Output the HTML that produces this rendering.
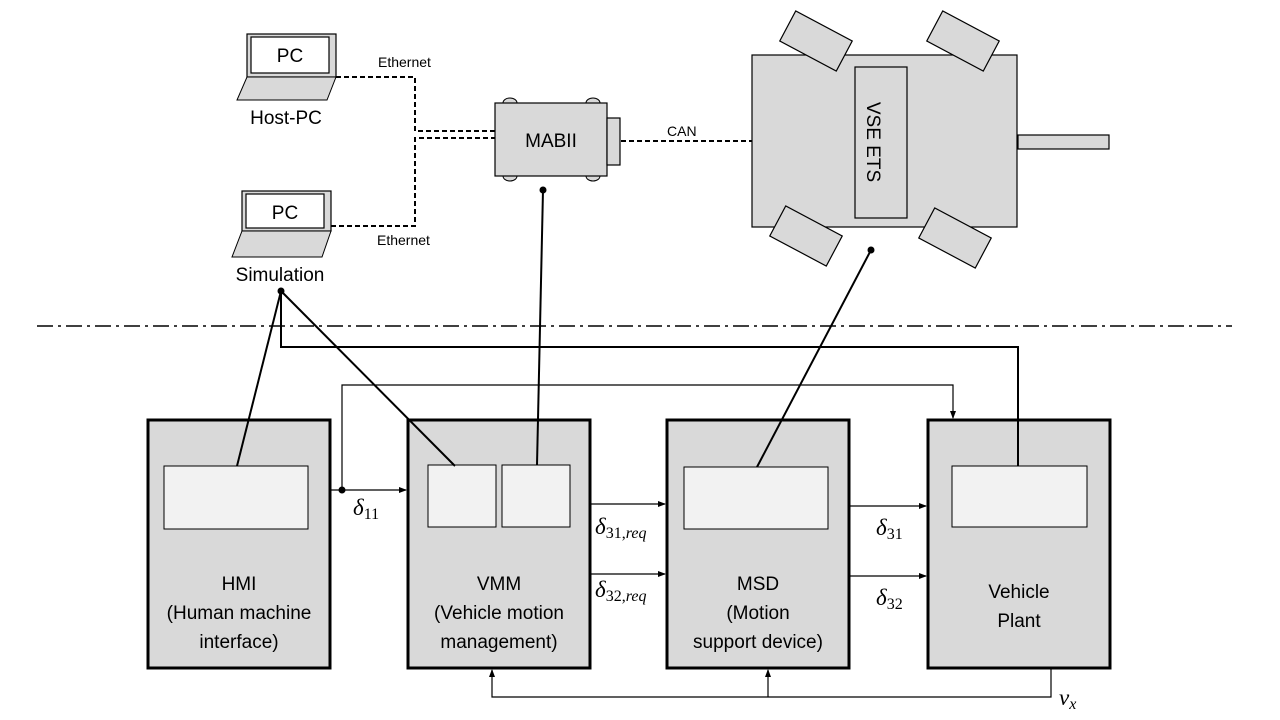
<!DOCTYPE html>
<html><head><meta charset="utf-8"><style>
html,body{margin:0;padding:0;background:#fff;}
svg{display:block;font-family:"Liberation Sans",sans-serif;}
.m{font-family:"Liberation Serif",serif;font-style:italic;}
</style></head><body>
<svg width="1280" height="720" viewBox="0 0 1280 720" xmlns="http://www.w3.org/2000/svg">
<defs><marker id="a" markerWidth="8" markerHeight="8" refX="7" refY="4" orient="auto" markerUnits="userSpaceOnUse"><path d="M0,1 L8,4 L0,7 Z" fill="#000"/></marker></defs>
<g stroke="#000" fill="none">
<!-- Host PC -->
<rect x="247" y="34" width="89" height="43" fill="#d9d9d9" stroke-width="1.2"/>
<rect x="251" y="37" width="78" height="36" fill="#fff" stroke-width="1.2"/>
<polygon points="247,77 336,77 327,100 237,100" fill="#d9d9d9" stroke-width="1"/>
<!-- Sim PC -->
<rect x="242" y="191" width="89" height="40" fill="#d9d9d9" stroke-width="1.2"/>
<rect x="246" y="194" width="78" height="34" fill="#fff" stroke-width="1.2"/>
<polygon points="242,231 331,231 322,257 232,257" fill="#d9d9d9" stroke-width="1"/>
<!-- dashed -->
<g stroke-dasharray="5,3" stroke-width="2">
<path d="M336,77 H415 V131 H495"/>
<path d="M331,226 H415 V138 H495"/>
<path d="M621,141 H855"/>
</g>
<!-- MABII -->
<ellipse cx="510" cy="103" rx="7" ry="5" fill="#d9d9d9"/>
<ellipse cx="593" cy="103" rx="7" ry="5" fill="#d9d9d9"/>
<ellipse cx="510" cy="176" rx="7" ry="5" fill="#d9d9d9"/>
<ellipse cx="593" cy="176" rx="7" ry="5" fill="#d9d9d9"/>
<rect x="495" y="103" width="112" height="73" fill="#d9d9d9" stroke-width="1.2"/>
<rect x="607" y="118" width="13" height="47" fill="#d9d9d9" stroke-width="1.2"/>
<!-- car -->
<g fill="#d9d9d9" stroke-width="1.2">
<rect x="752" y="55" width="265" height="172"/>
<rect x="855" y="67" width="52" height="151"/>
<rect x="1018" y="135" width="91" height="14"/>
<rect x="-32" y="-17" width="64" height="34" transform="translate(816,41) rotate(28)"/>
<rect x="-32" y="-17" width="64" height="34" transform="translate(963,41) rotate(28)"/>
<rect x="-32" y="-17" width="64" height="34" transform="translate(806,236) rotate(28)"/>
<rect x="-32" y="-17" width="64" height="34" transform="translate(955,238) rotate(28)"/>
</g>
<!-- dash dot -->
<path d="M37,326 H1232" stroke-width="1.5" stroke-dasharray="16,5,3,5"/>
<!-- blocks -->
<g fill="#d9d9d9" stroke-width="3">
<rect x="148" y="420" width="182" height="248"/>
<rect x="408" y="420" width="182" height="248"/>
<rect x="667" y="420" width="182" height="248"/>
<rect x="928" y="420" width="182" height="248"/>
</g>
<g fill="#f2f2f2" stroke-width="1">
<rect x="164" y="466" width="144" height="63"/>
<rect x="428" y="465" width="68" height="62"/>
<rect x="502" y="465" width="68" height="62"/>
<rect x="684" y="467" width="144" height="62"/>
<rect x="952" y="466" width="135" height="61"/>
</g>
<!-- connectors -->
<g stroke-width="2">
<path d="M281,291 L237,466"/>
<path d="M281,291 L455,466"/>
<path d="M281,291 V347 H1018 V466"/>
<path d="M543,190 L537,465"/>
<path d="M871,250 L757,467"/>
</g>
<g stroke-width="1.2">
<path d="M330,490 H406" marker-end="url(#a)"/>
<path d="M342,490 V385 H953 V418" marker-end="url(#a)"/>
<path d="M590,504 H665" marker-end="url(#a)"/>
<path d="M590,574 H665" marker-end="url(#a)"/>
<path d="M849,506 H926" marker-end="url(#a)"/>
<path d="M849,576 H926" marker-end="url(#a)"/>
<path d="M1051,668 V697 H492 V670" marker-end="url(#a)"/>
<path d="M768,697 V670" marker-end="url(#a)"/>
</g>
</g>
<g fill="#000">
<circle cx="281" cy="291" r="3.5"/>
<circle cx="543" cy="190" r="3.5"/>
<circle cx="871" cy="250" r="3.5"/>
<circle cx="342" cy="490" r="3.5"/>
</g>
<g font-size="19" text-anchor="middle" fill="#000">
<text x="290" y="62">PC</text>
<text x="285" y="219">PC</text>
<text x="286" y="124">Host-PC</text>
<text x="280" y="281">Simulation</text>
<text x="551" y="147">MABII</text>
<text transform="translate(874,142) rotate(90)" y="7">VSE ETS</text>
<text x="239" y="590">HMI</text>
<text x="239" y="619">(Human machine</text>
<text x="239" y="648">interface)</text>
<text x="499" y="590">VMM</text>
<text x="499" y="619">(Vehicle motion</text>
<text x="499" y="648">management)</text>
<text x="758" y="590">MSD</text>
<text x="758" y="619">(Motion</text>
<text x="758" y="648">support device)</text>
<text x="1019" y="598">Vehicle</text>
<text x="1019" y="627">Plant</text>
</g>
<g font-size="14" fill="#000">
<text x="378" y="67">Ethernet</text>
<text x="377" y="245">Ethernet</text>
<text x="667" y="136">CAN</text>
</g>
<g class="m" fill="#000" font-size="23">
<text x="353" y="515">δ<tspan font-size="16" font-style="normal" dy="4">11</tspan></text>
<text x="595" y="534">δ<tspan font-size="16" dy="4"><tspan font-style="normal">31,</tspan>req</tspan></text>
<text x="595" y="597">δ<tspan font-size="16" dy="4"><tspan font-style="normal">32,</tspan>req</tspan></text>
<text x="876" y="535">δ<tspan font-size="16" font-style="normal" dy="4">31</tspan></text>
<text x="876" y="605">δ<tspan font-size="16" font-style="normal" dy="4">32</tspan></text>
<text x="1059" y="705">v<tspan font-size="16" dy="4">x</tspan></text>
</g>
</svg>
</body></html>
